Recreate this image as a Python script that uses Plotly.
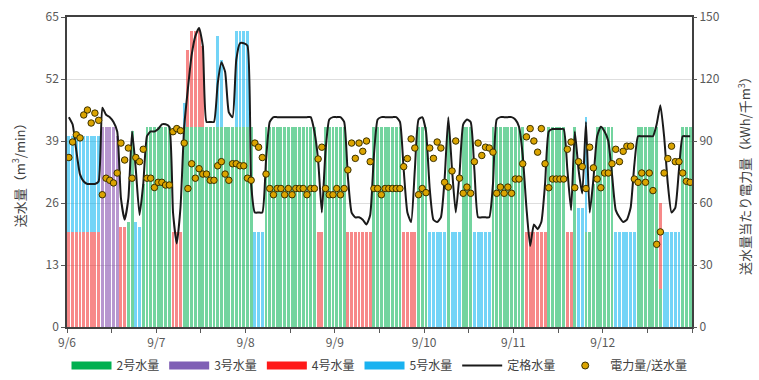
import plotly.graph_objects as go

# hourly data, 9/6 00:00 .. 9/12 23:00 (168 hours)
hours = list(range(168))

green = [0]*9 + [0]*5 + [0, 0, 22, 41, 0, 0, 30] + [42]*7 + \
        [0, 0, 0, 42, 42, 42, 42, 42, 42, 42, 42, 42, 42, 42, 42, 42, 42, 42, 42, 42, 42, 42, 0, 0, 0] + \
        [42]*14 + [0, 0] + [42]*6 + [0]*7 + [42]*8 + [0]*4 + [42]*3 + [0]*5 + [42] + [0]*3 + [42]*3 + [0]*5 + \
        [42]*9 + [0]*6 + [42]*5 + [0, 0, 42, 0, 0, 20, 20, 30] + [42]*5 + [0]*6 + [42]*6 + [8] + [0]*5 + [42]*3
purple = [0]*9 + [42, 42, 42, 42, 40] + [0]*154
red = [20]*9 + [0]*5 + [21, 21] + [0]*11 + [0, 20, 20, 20, 0, 16, 20, 20, 20, 17] + [0]*30 + [20, 20] + [0]*6 + \
      [20]*7 + [0]*8 + [20]*4 + [0]*29 + [20]*6 + [0]*5 + [20, 20] + [0]*23 + [18] + [0]*8
blue = [20]*9 + [0]*9 + [22, 21] + [0]*11 + [5] + [0]*8 + [19, 14, 0, 0, 0, 20, 20, 20, 20, 0, 20, 20, 20] + \
       [0]*44 + [20]*5 + [0] + [20]*3 + [0]*3 + [20]*5 + [0]*23 + [25, 25, 24] + [0]*7 + [20]*6 + [0]*7 + [20]*5 + [0]*3

rated = [44, 42.5, 37, 32, 30.5, 30, 30, 30, 30.5, 46, 44.5, 44, 43, 41, 27, 22.5, 27, 41, 33, 23.5, 30, 40, 41, 41,
         41.5, 42.5, 42.5, 42, 24, 17.5, 25, 42, 50, 57, 61, 62.7, 59, 43, 43, 43, 51, 55.5, 53.5, 45, 44, 56, 59.5, 59.5,
         59, 30, 24, 24, 24, 35, 43, 44, 44, 44, 44, 44, 44, 44, 44, 44, 44, 44, 41, 35, 24, 37, 43.5, 44,
         44, 44, 43, 31.5, 24, 23, 23, 22.5, 21.5, 23.5, 36, 43.5, 44, 44, 44, 44, 44, 43, 33, 24, 22, 33, 43.5, 44,
         41, 29, 22.5, 22, 23, 31, 44, 33, 24, 32, 42.5, 43.5, 43, 33, 23, 23, 23, 23, 30, 43.5, 44, 44, 44, 44,
         43.5, 42, 36, 25, 17, 21.5, 20.5, 22, 30, 41, 41.5, 41.5, 41.5, 41.5, 33, 24.5, 41, 33, 28, 43, 24, 31, 40, 42,
         41, 39, 32, 24.5, 23, 22, 22.5, 25, 34, 40, 40, 40, 40, 40, 42.5, 46.5, 40, 30, 24, 25, 33, 40, 40, 40]

power = [82, 89.5, 93, 91.5, 102.6, 105, 98.7, 103.5, 100, 64, 72, 71, 69.7, 74.5, 89, 80.8, 86.6, 72, 82, 80, 86, 72, 72, 67.5,
         70, 70, 68.7, 68.7, 94.5, 96, 95, 89, 67, 79, 72, 76.6, 74, 74, 71, 71, 78, 80, 74, 71, 79, 79, 78, 78,
         72, 71, 89, 87, 82, 74, 67, 64, 67, 67, 64, 67, 64, 67, 67, 67, 64, 67, 67, 81.3, 87, 67, 64, 64,
         67, 64, 67, 76, 89, 81.6, 89, 85, 90, 80, 67, 67, 64, 67, 67, 67, 67, 67, 77.6, 81.5, 91, 86.6, 64, 67,
         65, 86.6, 81.6, 89.5, 86.6, 70, 67.7, 75.5, 90, 72, 64.7, 67.7, 64.7, 80, 89, 83, 87, 86.6, 84.6, 64.7, 67.7, 64.7, 67.7, 64.7,
         71.6, 71.6, 79, 92, 96, 90, 84.6, 96, 79, 67.4, 71.6, 71.6, 71.6, 71.6, 86, 89.5, 67.4, 80, 77.6, 67, 87, 77, 71.6, 67.4,
         74.5, 74.5, 79, 86, 80, 85, 87.5, 87.5, 71.6, 70, 74.5, 70, 74.5, 66, 40, 46, 74.5, 81.5, 87.5, 80, 80, 74.5, 70.5, 70]

day_labels = ["9/6", "9/7", "9/8", "9/9", "9/10", "9/11", "9/12"]
series_names = ["2号水量", "3号水量", "4号水量", "5号水量", "定格水量", "電力量/送水量"]

FONT = "Noto Sans CJK JP"
xc = [h + 0.5 for h in hours]

fig = go.Figure()
bar_cols = ["rgba(0,176,80,0.55)", "rgba(112,48,160,0.5)", "rgba(240,40,40,0.55)", "rgba(0,176,240,0.55)"]
leg_cols = ["#00b050", "#7f5fb5", "#ff1a1a", "#1ab2f0"]
for vals, col in zip([green, purple, red, blue], bar_cols):
    fig.add_trace(go.Bar(x=xc, y=vals, marker=dict(color=col, line=dict(width=0)),
                         showlegend=False, hoverinfo="skip"))

fig.add_trace(go.Scatter(x=xc, y=rated, mode="lines", line=dict(color="#1a1a1a", width=2, shape="spline", smoothing=0.5),
                         showlegend=False))
fig.add_trace(go.Scatter(x=xc, y=power, mode="markers", yaxis="y2",
                         marker=dict(color="#dba400", size=6.5, line=dict(color="#3a3000", width=1)),
                         showlegend=False))

# legend entries
for name, col in zip(series_names[:4], leg_cols):
    fig.add_trace(go.Scatter(x=[None], y=[None], mode="lines", name=name, line=dict(color=col, width=8)))
fig.add_trace(go.Scatter(x=[None], y=[None], mode="lines", name=series_names[4], line=dict(color="#1a1a1a", width=2)))
fig.add_trace(go.Scatter(x=[None], y=[None], mode="markers", name=series_names[5],
                         marker=dict(color="#dba400", size=7, line=dict(color="#3a3000", width=1))))

tickvals = list(range(0, 169, 12))
ticktext = [day_labels[i // 24] if (i % 24 == 0 and i < 168) else "" for i in tickvals]

fig.update_layout(
    width=759, height=380,
    margin=dict(l=67, r=67, t=17, b=53, autoexpand=False),
    paper_bgcolor="white", plot_bgcolor="white",
    barmode="stack", bargap=0.22,
    font=dict(family=FONT, size=12, color="#595959"),
    xaxis=dict(range=[0, 168], tickvals=tickvals, ticktext=ticktext, ticks="outside", ticklen=4,
               tickcolor="#595959", showline=True, linecolor="#404040", linewidth=1.5, mirror=True,
               showgrid=False, zeroline=False, tickfont=dict(size=12, color="#595959")),
    yaxis=dict(range=[0, 65], tickvals=[0, 13, 26, 39, 52, 65], ticks="outside", ticklen=4,
               tickcolor="#595959", showline=True, linecolor="#404040", linewidth=1.5, mirror=True,
               showgrid=True, gridcolor="#dedede", gridwidth=1, zeroline=False, tickfont=dict(size=12, color="#595959")),
    yaxis2=dict(range=[0, 150], tickvals=[0, 30, 60, 90, 120, 150], overlaying="y", side="right",
                ticks="outside", ticklen=4, tickcolor="#595959", showgrid=False, zeroline=False,
                tickfont=dict(size=12, color="#595959")),
    legend=dict(orientation="h", x=0.5, xanchor="center", yref="container", y=0.0, yanchor="bottom",
                font=dict(size=12, color="#404040", family=FONT),
                itemwidth=40, traceorder="normal", tracegroupgap=0),
    annotations=[
        dict(text="送水量（m<sup>3</sup>/min）", xref="paper", yref="paper", x=-0.078, y=0.5,
             xanchor="center", yanchor="middle", textangle=-90, showarrow=False,
             font=dict(size=13, color="#404040", family=FONT)),
        dict(text="送水量当たり電力量（kWh/千m<sup>3</sup>）", xref="paper", yref="paper", x=1.083, y=0.5,
             xanchor="center", yanchor="middle", textangle=-90, showarrow=False,
             font=dict(size=13, color="#404040", family=FONT)),
    ],
)

# remove the default page margin so the figure sits at the window's top-left corner
fig.write_html("out.html", config={"displayModeBar": False},
               post_script="document.body.style.margin='0';document.body.style.overflow='hidden';")
